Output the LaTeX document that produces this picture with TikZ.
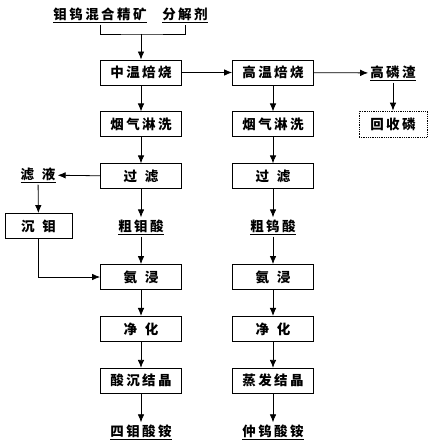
\documentclass[tikz,border=0pt]{standalone}
\usepackage{fontspec}
\newfontfamily\cjk[LetterSpace=18]{Noto Sans CJK SC}
\usepackage{tikz}
\usetikzlibrary{arrows.meta,positioning}
\tikzset{
  arr/.style={-{Latex[length=2.8mm,width=2.3mm]},line width=0.8pt,draw=black},
  stepbox/.style={draw,line width=0.9pt,minimum width=81pt,minimum height=25pt,inner sep=0pt,fill=white},
  dashbox/.style={draw,line width=0.8pt,densely dotted,minimum width=68pt,minimum height=26pt,inner sep=0pt},
  matl/.style={inner sep=2pt}
}
\newcommand{\gp}{\hspace{8pt}}
\begin{document}
\begin{tikzpicture}[x=1pt,y=-1pt,font=\cjk\bfseries\fontsize{13.5}{15}\selectfont]
  \useasboundingbox (0,0) rectangle (431,443);
  % feed
  \node[matl] (ore) at (100,15) {\underline{钼钨混合精矿}};
  \node[matl] (agent) at (185,15) {\underline{分解剂}};
  \coordinate (join) at (141,34);
  % molybdenum line
  \node[stepbox] (midroast) at (141,72.5) {中温焙烧};
  \node[stepbox,below=26pt of midroast] (wash1) {烟气淋洗};
  \node[stepbox,below=26pt of wash1] (filt1) {过\gp 滤};
  \node[matl] (crudemo) at (141,227) {\underline{粗钼酸}};
  \node[stepbox] (leach1) at (141,277) {氨\gp 浸};
  \node[stepbox,below=26pt of leach1] (pur1) {净\gp 化};
  \node[stepbox,below=26pt of pur1] (cryst1) {酸沉结晶};
  \node[matl] (atm) at (141,432) {\underline{四钼酸铵}};
  % tungsten line
  \node[stepbox] (hiroast) at (273,72.5) {高温焙烧};
  \node[stepbox,below=26pt of hiroast] (wash2) {烟气淋洗};
  \node[stepbox,below=26pt of wash2] (filt2) {过\gp 滤};
  \node[matl] (crudew) at (273,227) {\underline{粗钨酸}};
  \node[stepbox] (leach2) at (273,277) {氨\gp 浸};
  \node[stepbox,below=26pt of leach2] (pur2) {净\gp 化};
  \node[stepbox,below=26pt of pur2] (cryst2) {蒸发结晶};
  \node[matl] (apt) at (273,432) {\underline{仲钨酸铵}};
  % side branches
  \node[matl] (slag) at (393,73) {\underline{高磷渣}};
  \node[dashbox] (prec) at (393,124) {回收磷};
  \node[matl] (filtrate) at (38,175) {\underline{滤\gp 液}};
  \node[stepbox,minimum width=67pt] (moprec) at (38.5,226) {沉\gp 钼};
  % connectors
  \draw[line width=0.8pt] (ore.south) |- (join) -| (agent.south);
  \draw[arr] (join) -- (midroast);
  \draw[arr] (midroast) -- (wash1); \draw[arr] (wash1) -- (filt1); \draw[arr] (filt1) -- (crudemo);
  \draw[arr] (crudemo) -- (leach1); \draw[arr] (leach1) -- (pur1); \draw[arr] (pur1) -- (cryst1);
  \draw[arr] (cryst1) -- (atm);
  \draw[arr] (midroast) -- (hiroast);
  \draw[arr] (hiroast) -- (wash2); \draw[arr] (wash2) -- (filt2); \draw[arr] (filt2) -- (crudew);
  \draw[arr] (crudew) -- (leach2); \draw[arr] (leach2) -- (pur2); \draw[arr] (pur2) -- (cryst2);
  \draw[arr] (cryst2) -- (apt);
  \draw[arr] (hiroast) -- (slag); \draw[arr] (slag) -- (prec);
  \draw[arr] (filt1) -- (filtrate); \draw[arr] (filtrate) -- (moprec);
  \draw[arr] (moprec) |- (leach1);
\end{tikzpicture}
\end{document}
